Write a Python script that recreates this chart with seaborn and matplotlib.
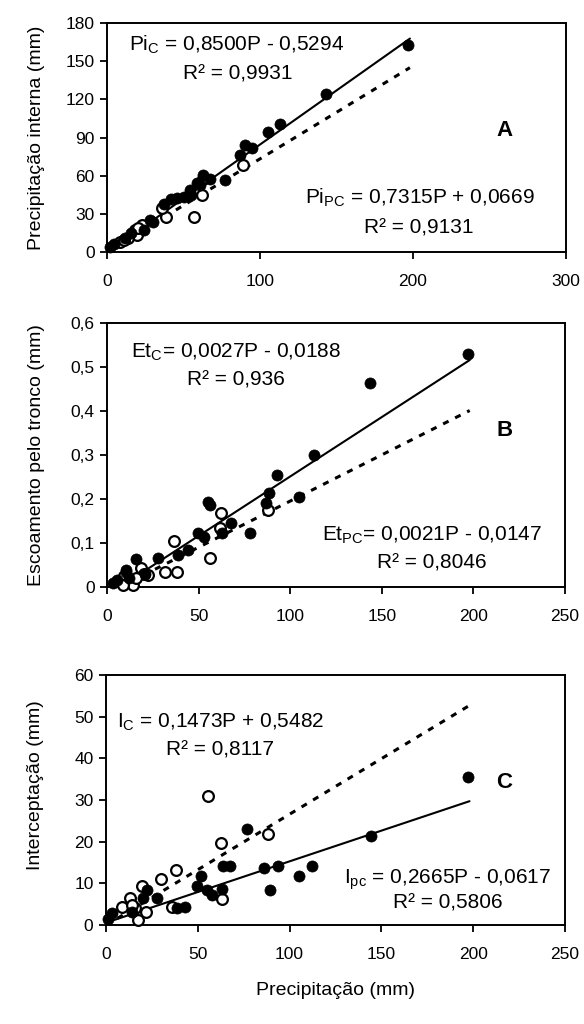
import numpy as np
import pandas as pd
import matplotlib
matplotlib.use("Agg")
import matplotlib.pyplot as plt
import seaborn as sns

sns.set_theme(style="white")
plt.rcParams['font.family'] = ['Liberation Sans', 'DejaVu Sans']
plt.rcParams['mathtext.fontset'] = 'custom'
plt.rcParams['mathtext.rm'] = 'Liberation Sans'
plt.rcParams['mathtext.it'] = 'Liberation Sans'
plt.rcParams['mathtext.default'] = 'regular'

# ---------------- data ----------------
# Panel A: precipitação interna (Pi) vs precipitação (P)
a_c_p  = [197, 143, 113, 105, 90, 94.6, 87, 77, 63, 67, 58.6, 54, 50, 46, 42, 37, 30, 28, 24, 16, 12, 4.4, 2, 61, 55]
a_c_y  = [163, 124, 100.6, 94.6, 84, 81.5, 76, 56.6, 60.5, 57.6, 54, 48.7, 43.5, 42.5, 42, 38, 23.8, 25, 17.3, 14.7, 10.8, 6.6, 4, 52.7, 45]
a_pc_p = [89, 62.5, 62, 57, 38.6, 35.7, 22.6, 18.3, 19.4, 8.5, 14, 20.5, 11]
a_pc_y = [68.4, 57, 44.8, 27.8, 27.8, 34.3, 21.2, 17.3, 13.4, 8.1, 10.8, 19, 9.5]

# Panel B: escoamento pelo tronco (Et)
b_c_p  = [197, 143.6, 113, 93, 88.7, 87, 104.7, 67.8, 77.8, 63, 55, 56, 49.6, 53, 44, 38.7, 27.8, 15.6, 10.2, 10.6, 3.3, 5.5, 21, 12]
b_c_y  = [0.53, 0.464, 0.30, 0.255, 0.213, 0.192, 0.205, 0.145, 0.122, 0.122, 0.194, 0.187, 0.122, 0.113, 0.083, 0.073, 0.066, 0.063, 0.039, 0.035, 0.010, 0.015, 0.030, 0.020]
b_pc_p = [62.4, 61.5, 87.8, 36.4, 56.4, 38.2, 31.5, 18.8, 22.4, 9.1, 14.2, 8.7, 20, 16]
b_pc_y = [0.168, 0.134, 0.175, 0.105, 0.066, 0.035, 0.035, 0.043, 0.028, 0.026, 0.004, 0.005, 0.030, 0.020]

# Panel C: interceptação (I)
c_c_p  = [197, 144.4, 77, 85.8, 93.6, 89.4, 104.9, 112, 63.6, 67.6, 52, 49.5, 55, 57.6, 63, 43, 38.5, 28, 22.2, 20.3, 3, 1, 14]
c_c_y  = [35.5, 21.4, 23, 13.7, 14.2, 8.3, 11.7, 14.2, 14.2, 14.2, 11.8, 9.4, 8.4, 7.2, 8.6, 4.4, 4, 6.6, 8.4, 6.4, 2.8, 1.5, 3.2]
c_pc_p = [55.4, 62.5, 88.5, 38.2, 30, 19.5, 35.8, 63, 8.5, 13.3, 16, 17.6, 22, 14]
c_pc_y = [31, 19.8, 21.8, 13.2, 11, 9.4, 4.4, 6.2, 4.4, 6.5, 4, 1.2, 3.2, 4.8]

# regression coefficients (slope, intercept) : C (solid) and PC (dashed)
a_fit_c,  a_fit_pc = (0.8500, -0.5294), (0.7315, 0.0669)
b_fit_c,  b_fit_pc = (0.0027, -0.0188), (0.0021, -0.0147)
c_fit_c,  c_fit_pc = (0.1473, 0.5482), (0.2665, -0.0617)

y_labels = ["Precipitação interna (mm)", "Escoamento pelo tronco (mm)", "Interceptação (mm)"]
x_label = "Precipitação (mm)"
panel_letters = ["A", "B", "C"]

a_xticks, a_yticks = [0, 100, 200, 300], [0, 30, 60, 90, 120, 150, 180]
b_xticks, b_yticks = [0, 50, 100, 150, 200, 250], [0, 0.1, 0.2, 0.3, 0.4, 0.5, 0.6]
c_xticks, c_yticks = [0, 50, 100, 150, 200, 250], [0, 10, 20, 30, 40, 50, 60]
b_ytick_labels = ["0", "0,1", "0,2", "0,3", "0,4", "0,5", "0,6"]

eq_lines = [
    ("Pi$_{C}$ = 0,8500P - 0,5294", "R² = 0,9931", "Pi$_{PC}$ = 0,7315P + 0,0669", "R² = 0,9131"),
    ("Et$_{C}$= 0,0027P - 0,0188", "R² = 0,936", "Et$_{PC}$= 0,0021P - 0,0147", "R² = 0,8046"),
    ("I$_{C}$ = 0,1473P + 0,5482", "R² = 0,8117", "I$_{pc}$ = 0,2665P - 0,0617", "R² = 0,5806"),
]

# ---------------- figure ----------------
fig = plt.figure(figsize=(5.84, 10.24), dpi=100)
W, H = 584, 1024
boxes = [(107, 566, 23, 252), (107, 565, 323, 587), (106, 565, 675, 925)]
axes = []
for (l, r, t, b) in boxes:
    axes.append(fig.add_axes([l / W, 1 - b / H, (r - l) / W, (b - t) / H]))

panels = [
    (a_c_p, a_c_y, a_pc_p, a_pc_y, a_fit_c, a_fit_pc, a_xticks, a_yticks),
    (b_c_p, b_c_y, b_pc_p, b_pc_y, b_fit_c, b_fit_pc, b_xticks, b_yticks),
    (c_c_p, c_c_y, c_pc_p, c_pc_y, c_fit_c, c_fit_pc, c_xticks, c_yticks),
]
# (x, y) axes-fraction centres of the four text lines per panel
eq_pos = [[(0.283, 0.904), (0.285, 0.777), (0.682, 0.236), (0.68, 0.105)],
          [(0.282, 0.890), (0.282, 0.784), (0.71, 0.197), (0.71, 0.091)],
          [(0.25, 0.812), (0.248, 0.70), (0.745, 0.18), (0.745, 0.088)]]
letter_pos = [(0.867, 0.53), (0.867, 0.594), (0.867, 0.572)]
ylabel_y = [0.5, 0.5, 0.56]

for i, ax in enumerate(axes):
    cp, cy, pp, py, fc, fpc, xt, yt = panels[i]
    df_c = pd.DataFrame({"P": cp, "Y": cy})
    df_pc = pd.DataFrame({"P": pp, "Y": py})
    xmax = max(max(cp), max(pp))
    line_x = np.linspace(0, xmax + 1, 50)
    df_lc = pd.DataFrame({"P": line_x, "Y": fc[0] * line_x + fc[1]})
    df_lpc = pd.DataFrame({"P": line_x, "Y": fpc[0] * line_x + fpc[1]})

    sns.lineplot(data=df_lc, x="P", y="Y", ax=ax, color="black", lw=1.5, zorder=2)
    sns.lineplot(data=df_lpc, x="P", y="Y", ax=ax, color="black", lw=2.2,
                 linestyle=(0, (2, 2.4)), zorder=2)
    sns.scatterplot(data=df_pc, x="P", y="Y", ax=ax, s=60, facecolor="white",
                    edgecolor="black", linewidth=1.6, zorder=3, clip_on=False)
    sns.scatterplot(data=df_c, x="P", y="Y", ax=ax, s=64, color="black",
                    edgecolor="black", linewidth=0.5, zorder=4, clip_on=False)

    ax.set_xlim(xt[0], xt[-1])
    ax.set_ylim(yt[0], yt[-1])
    ax.set_xticks(xt)
    ax.set_yticks(yt)
    if i == 1:
        ax.set_yticklabels(b_ytick_labels)
    ax.tick_params(axis="both", direction="out", length=5, width=1.3,
                   labelsize=12.5, color="black", labelcolor="black",
                   bottom=True, left=True, pad=4)
    ax.tick_params(axis="x", pad=11)
    for s in ax.spines.values():
        s.set_color("black")
        s.set_linewidth(1.4)
    ax.set_ylabel(y_labels[i], fontsize=14, color="black", labelpad=8)
    ax.yaxis.set_label_coords(-0.135, ylabel_y[i])
    ax.set_xlabel(x_label if i == 2 else "", fontsize=14, color="black", labelpad=14)
    ax.grid(False)

    for k in range(4):
        x, y = eq_pos[i][k]
        ax.text(x, y, eq_lines[i][k], transform=ax.transAxes, ha="center", va="center",
                fontsize=15, color="black")
    lx, ly = letter_pos[i]
    ax.text(lx, ly, panel_letters[i], transform=ax.transAxes, ha="center", va="center",
            fontsize=16, fontweight="bold", color="black")

fig.savefig("out.png", dpi=100)
